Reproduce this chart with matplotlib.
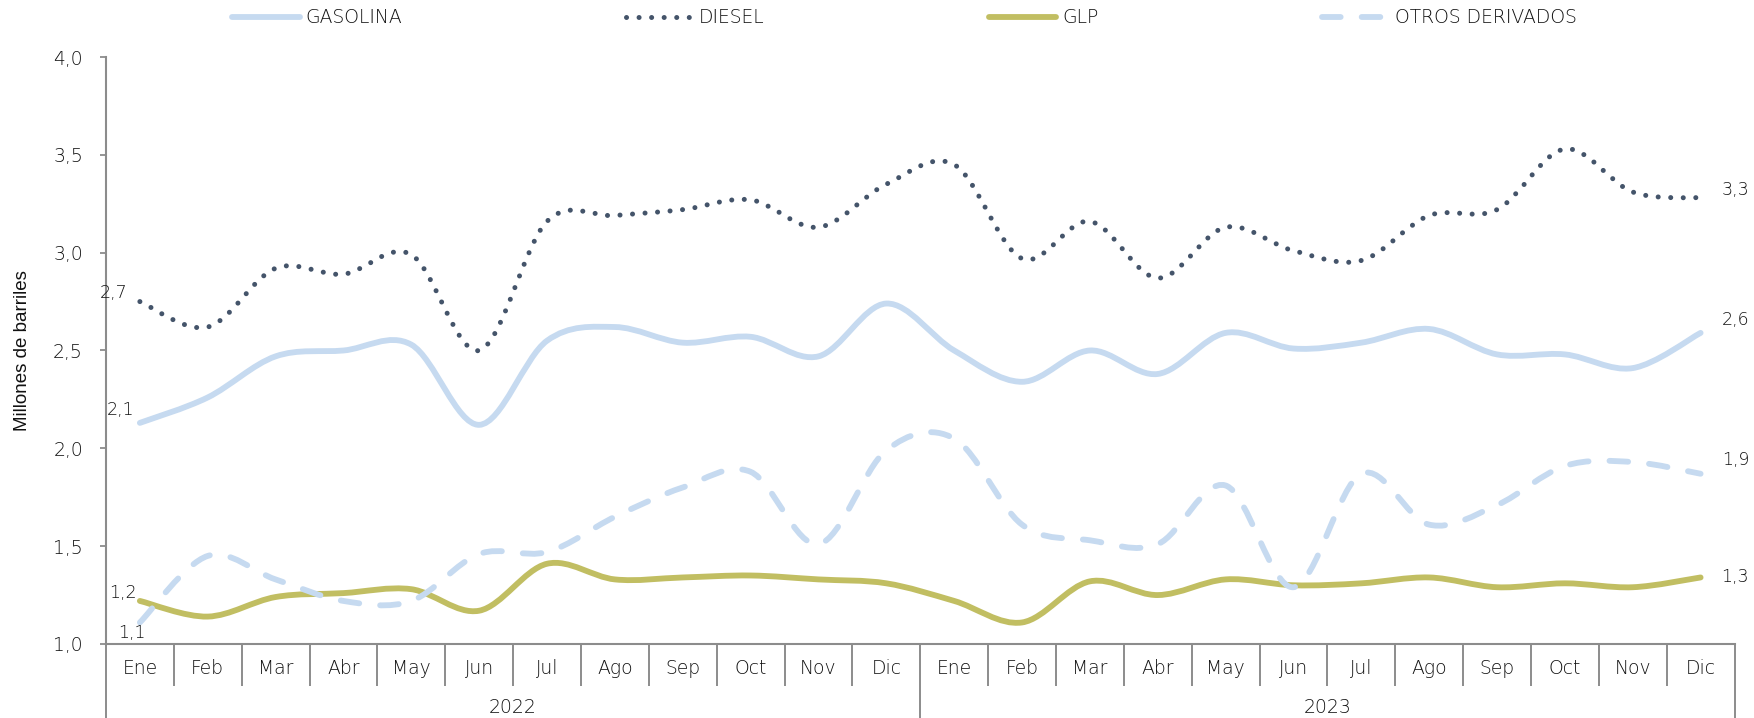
import matplotlib
matplotlib.use("Agg")
import matplotlib.pyplot as plt
from matplotlib.path import Path
from matplotlib.patches import PathPatch
from matplotlib.lines import Line2D
import numpy as np

months = ["Ene", "Feb", "Mar", "Abr", "May", "Jun", "Jul", "Ago", "Sep", "Oct", "Nov", "Dic"]
years = ["2022", "2023"]
categories = months * 2

gasolina = [2.13, 2.26, 2.47, 2.50, 2.53, 2.12, 2.55, 2.62, 2.54, 2.57, 2.47, 2.74,
            2.50, 2.34, 2.50, 2.38, 2.59, 2.51, 2.54, 2.61, 2.48, 2.48, 2.41, 2.59]
diesel = [2.75, 2.62, 2.92, 2.89, 2.99, 2.50, 3.16, 3.19, 3.22, 3.27, 3.13, 3.35,
          3.45, 2.97, 3.16, 2.87, 3.13, 3.01, 2.96, 3.19, 3.22, 3.53, 3.31, 3.28]
glp = [1.22, 1.14, 1.24, 1.26, 1.28, 1.17, 1.41, 1.33, 1.34, 1.35, 1.33, 1.31,
       1.22, 1.11, 1.32, 1.25, 1.33, 1.30, 1.31, 1.34, 1.29, 1.31, 1.29, 1.34]
otros = [1.11, 1.45, 1.33, 1.22, 1.22, 1.46, 1.47, 1.65, 1.80, 1.88, 1.51, 1.99,
         2.05, 1.61, 1.53, 1.51, 1.81, 1.29, 1.87, 1.61, 1.71, 1.91, 1.93, 1.87]

series_names = ["GASOLINA", "DIESEL", "GLP", "OTROS DERIVADOS"]
first_labels = ["2,1", "2,7", "1,2", "1,1"]
last_labels = ["2,6", "3,3", "1,3", "1,9"]
yticks = [1.0, 1.5, 2.0, 2.5, 3.0, 3.5, 4.0]

C_GAS = "#C6DAF0"
C_DIE = "#44546A"
C_GLP = "#C1BE62"
C_OTR = "#C6DAF0"
TXT = "#111111"
AX = "#8C8C8C"
FONT = "DejaVu Sans"
FW = "light"
FS = 13.5

fig = plt.figure(figsize=(17.54, 7.18), dpi=100)
ax = fig.add_axes([0.0604, 0.1031, 0.9285, 0.8175])


def smooth_path(ys):
    xs = np.arange(len(ys), dtype=float)
    pts = np.column_stack([xs, np.asarray(ys, float)])
    n = len(pts)
    verts = [pts[0]]
    codes = [Path.MOVETO]
    for i in range(n - 1):
        p0 = pts[i - 1] if i > 0 else pts[i]
        p1 = pts[i]
        p2 = pts[i + 1]
        p3 = pts[i + 2] if i + 2 < n else pts[i + 1]
        c1 = p1 + (p2 - p0) / 6.0
        c2 = p2 - (p3 - p1) / 6.0
        verts += [c1, c2, p2]
        codes += [Path.CURVE4] * 3
    return Path(verts, codes)


styles = [
    (gasolina, C_GAS, "-", 4.2, "round"),
    (diesel, C_DIE, (0, (0.01, 2.5)), 3.6, "round"),
    (glp, C_GLP, "-", 4.2, "round"),
    (otros, C_OTR, (0, (3.2, 3.6)), 4.2, "round"),
]
for data, col, ls, lw, cap in styles:
    patch = PathPatch(smooth_path(data), facecolor="none", edgecolor=col,
                      linewidth=lw, linestyle=ls, capstyle=cap, joinstyle="round")
    ax.add_patch(patch)

ax.set_xlim(-0.5, 23.5)
ax.set_ylim(1.0, 4.0)

# end labels
first_offsets = [(-14, 9.5), (-19, 6), (-12, 5.5), (-6, -7.5)]
last_offsets = [(25, 9), (25, 5.5), (25, 0), (25, 10)]
all_series = [gasolina, diesel, glp, otros]
for s, lab, off in zip(all_series, first_labels, first_offsets):
    ax.annotate(lab, (0, s[0]), xytext=off, textcoords="offset points",
                ha="center", va="center", fontsize=12.5, color=TXT, family=FONT,
                fontweight=FW)
for s, lab, off in zip(all_series, last_labels, last_offsets):
    ax.annotate(lab, (len(s) - 1, s[-1]), xytext=off, textcoords="offset points",
                ha="center", va="center", fontsize=12.5, color=TXT, family=FONT,
                fontweight=FW, annotation_clip=False)

# y axis
ax.set_yticks(yticks)
ax.set_yticklabels([f"{v:.1f}".replace(".", ",") for v in yticks],
                   fontsize=FS, color=TXT, family=FONT, fontweight=FW)
ax.tick_params(axis="y", direction="out", length=4.5, width=1.3, color=AX, pad=12)
ax.set_ylabel("Millones de barriles", fontsize=13.5, color="#111111",
              family="Liberation Sans")
ax.yaxis.set_label_coords(-0.046, 0.5)

# x axis multi-level
ax.set_xticks([])
for side in ["top", "right"]:
    ax.spines[side].set_visible(False)
for side in ["left", "bottom"]:
    ax.spines[side].set_color(AX)
    ax.spines[side].set_linewidth(1.5)
ax.spines["left"].set_bounds(1.0, 4.0)

tr = ax.get_xaxis_transform()
y_sep = -0.071
y_bot = -0.127
for k in range(len(categories) + 1):
    b = k - 0.5
    low = y_bot if k % 12 == 0 else y_sep
    ax.plot([b, b], [0, low], transform=tr, color=AX, lw=1.4, clip_on=False,
            solid_capstyle="butt")
for i, m in enumerate(categories):
    ax.text(i, -0.0425, m, transform=tr, ha="center", va="center",
            fontsize=FS, color=TXT, family=FONT, fontweight=FW)
for j, yr in enumerate(years):
    ax.text(j * 12 + 5.5, -0.108, yr, transform=tr, ha="center", va="center",
            fontsize=FS, color=TXT, family=FONT, fontweight=FW)

# legend
handles = [
    Line2D([], [], color=C_GAS, lw=4.2, solid_capstyle="round"),
    Line2D([], [], color=C_DIE, lw=3.6, linestyle=(0, (0.01, 2.5)), dash_capstyle="round"),
    Line2D([], [], color=C_GLP, lw=4.2, solid_capstyle="round"),
    Line2D([], [], color=C_OTR, lw=4.2, linestyle=(0, (3.2, 3.6)), dash_capstyle="round"),
]
leg = fig.legend(handles, series_names, loc="center left", bbox_to_anchor=(0.1323, 0.975),
                 ncol=4, frameon=False, handlelength=3.6, handletextpad=0.3,
                 columnspacing=11.95, borderpad=0, borderaxespad=0,
                 prop={"family": FONT, "size": FS, "weight": FW})
for t in leg.get_texts():
    t.set_color(TXT)

fig.savefig("out.png", dpi=100)
